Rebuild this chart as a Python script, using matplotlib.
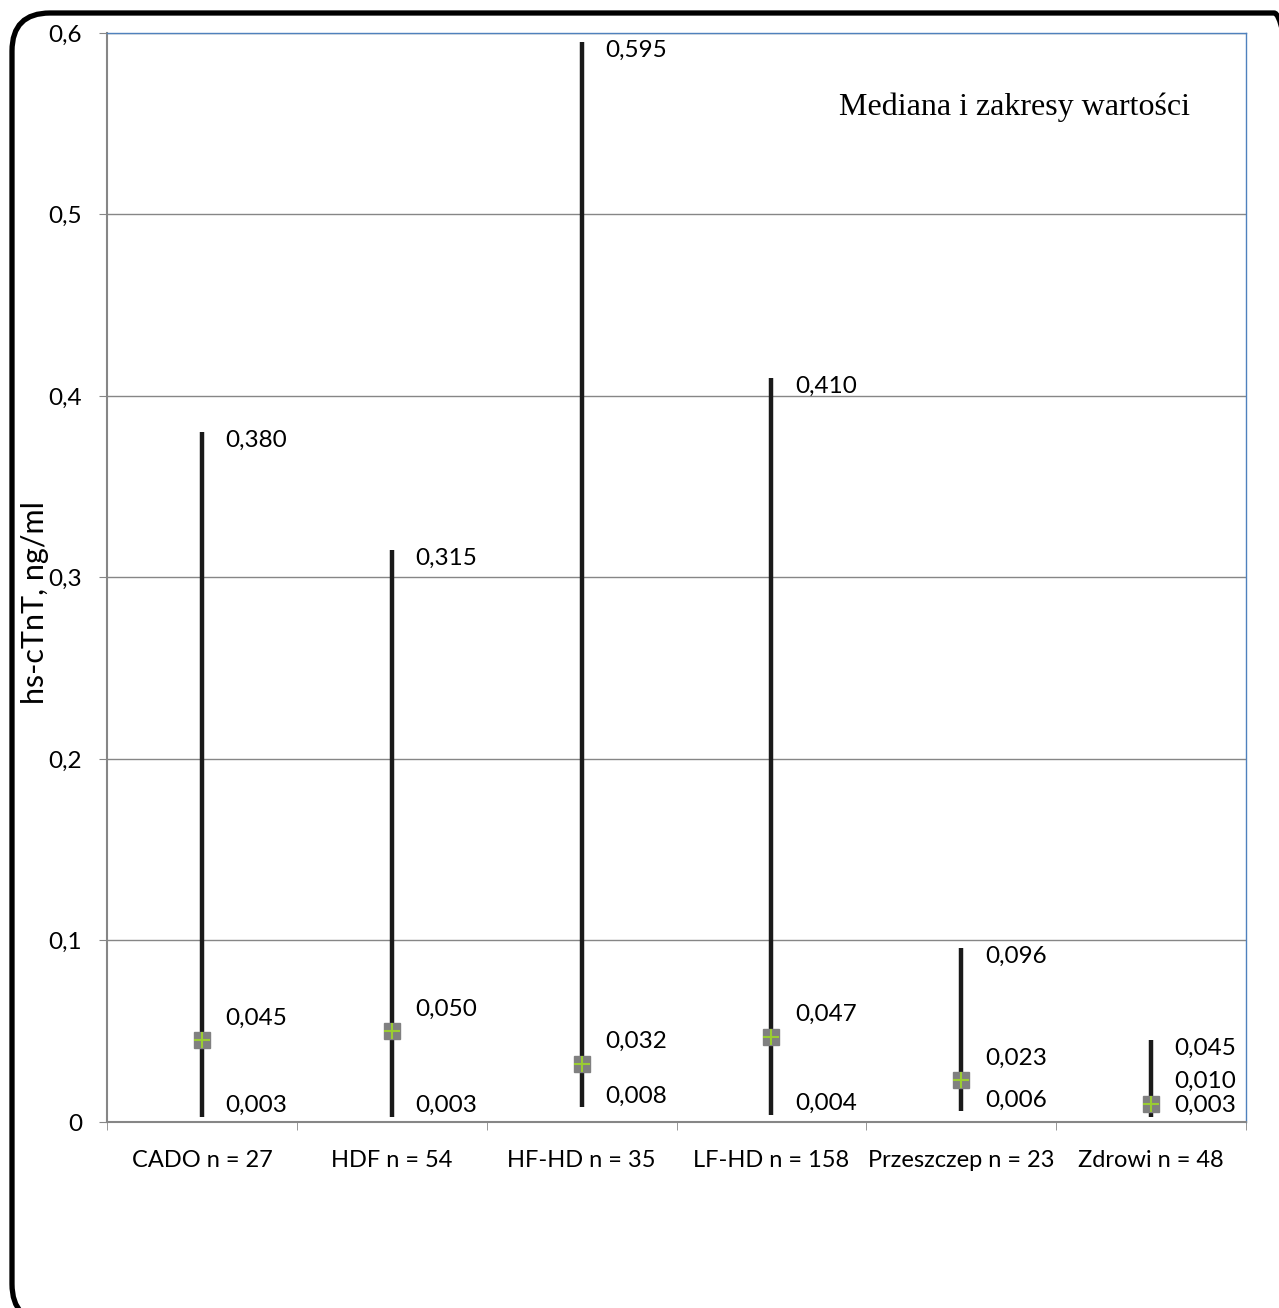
import matplotlib.pyplot as plt
from matplotlib.patches import FancyBboxPatch

# hs-cTnT ranges per group: minimum, median and maximum
groups = ['CADO n = 27', 'HDF n = 54', 'HF-HD n = 35', 'LF-HD n = 158',
          'Przeszczep n = 23', 'Zdrowi n = 48']
maximum = [0.380, 0.315, 0.595, 0.410, 0.096, 0.045]
median = [0.045, 0.050, 0.032, 0.047, 0.023, 0.010]
minimum = [0.003, 0.003, 0.008, 0.004, 0.006, 0.003]
yticks = [0, 0.1, 0.2, 0.3, 0.4, 0.5, 0.6]


def fmt(v):
    return ('%.3f' % v).replace('.', ',')


plt.rcParams['font.family'] = ['Lato', 'DejaVu Sans']
fs = 17.5

W, H = 1279, 1308
fig = plt.figure(figsize=(W / 100, H / 100), dpi=100)
ax = fig.add_axes([0.0837, 0.1422, 0.8905, 0.8326])

x = range(len(groups))
ax.vlines(x, minimum, maximum, color='#1a1a1a', lw=3.2, zorder=3)
ax.plot(x, median, 's', ms=12, color='#808080', zorder=4)
ax.plot(x, median, '+', ms=11, mew=1.5, color='#9acd32', zorder=5)

for i in x:
    ax.annotate(fmt(maximum[i]), (i, maximum[i]), xytext=(17, -6),
                textcoords='offset points', ha='left', va='center', fontsize=fs)
    ax.annotate(fmt(median[i]), (i, median[i]), xytext=(17, 16),
                textcoords='offset points', ha='left', va='center', fontsize=fs)
    ax.annotate(fmt(minimum[i]), (i, minimum[i]), xytext=(17, 8),
                textcoords='offset points', ha='left', va='center', fontsize=fs)

ax.set_xlim(-0.5, len(groups) - 0.5)
ax.set_ylim(0, 0.6)
ax.set_yticks(yticks)
ax.set_yticklabels([('%g' % t).replace('.', ',') for t in yticks], fontsize=fs)
ax.set_xticks(list(x))
ax.set_xticklabels(groups, fontsize=17)
ax.set_xticks([i - 0.5 for i in range(len(groups) + 1)], minor=True)
ax.tick_params(axis='x', which='major', length=0, pad=20)
ax.tick_params(axis='x', which='minor', length=6, color='#868686')
ax.tick_params(axis='y', length=6, color='#868686', pad=12)
ax.grid(axis='y', color='#868686', lw=1)
ax.set_axisbelow(True)

for side in ['left', 'bottom']:
    ax.spines[side].set_color('#868686')
    ax.spines[side].set_linewidth(1.5)
for side in ['top', 'right']:
    ax.spines[side].set_color('#4f81bd')
    ax.spines[side].set_linewidth(1)

fig.text(35 / W, 1 - 603 / H, 'hs-cTnT, ng/ml', rotation=90,
         ha='center', va='center', fontsize=22)
ax.text(0.951, 0.932, 'Mediana i zakresy wartości', transform=ax.transAxes,
        ha='right', va='center', fontsize=23, family='Liberation Serif')

# rounded frame around the whole chart (pixel coordinates)
frame = FancyBboxPatch((12, -14), 1300, 1309,
                       boxstyle='round,pad=0,rounding_size=38',
                       transform=None, fill=False,
                       ec='black', lw=3.8, clip_on=False)
fig.patches.append(frame)

fig.savefig('out.png', dpi=100)
